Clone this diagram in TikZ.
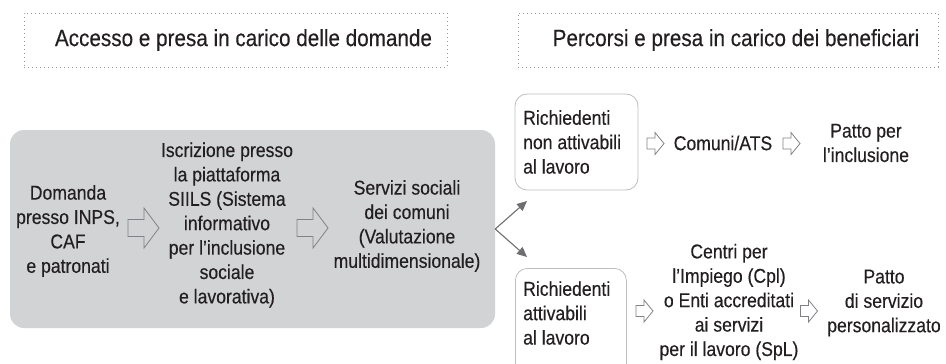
\documentclass[tikz,border=0pt]{standalone}
\usepackage{fontspec}
\setmainfont{Liberation Sans}[FakeStretch=0.88, FakeBold=0.3]
\usepackage{xcolor}
\usetikzlibrary{arrows.meta,positioning}

\definecolor{panelgray}{HTML}{D1D3D4}
\definecolor{framegray}{HTML}{BCBEC0}
\definecolor{dotgray}{HTML}{939598}
\definecolor{arrowgray}{HTML}{808285}
\definecolor{forkgray}{HTML}{6D6E71}
\definecolor{inkgray}{HTML}{231F20}

\tikzset{
  bodytext/.style={align=center, text=inkgray, inner sep=0pt,
    font=\fontsize{20}{24.4}\selectfont},
  headbox/.style={draw=dotgray, line width=0.8pt, dash pattern=on 1.2pt off 2.8pt,
    minimum height=54pt, inner sep=0pt},
  headtext/.style={text=inkgray, inner sep=0pt, font=\fontsize{23.5}{26}\selectfont},
  userbox/.style={draw=framegray, line width=0.8pt, rounded corners=12pt, fill=white},
  fork/.style={draw=forkgray, line width=1.1pt, -{Triangle[length=10pt,width=9pt]}},
  % hollow block arrows
  bigarrow/.pic={
    \draw[arrowgray, line width=0.8pt, line join=miter] (-15.5,-8.5) -- (0.5,-8.5) -- (0.5,-20)
      -- (15.5,0) -- (0.5,20) -- (0.5,8.5) -- (-15.5,8.5) -- cycle;
  },
  smallarrow/.pic={
    \draw[arrowgray, line width=0.8pt, line join=miter] (-8.5,-5.5) -- (-0.5,-5.5) -- (-0.5,-11)
      -- (8.5,0) -- (-0.5,11) -- (-0.5,5.5) -- (-8.5,5.5) -- cycle;
  }
}

\begin{document}
\begin{tikzpicture}[x=1pt, y=-1pt]
  \clip (0,0) rectangle (946,364);

  % Phase headers
  \node[headbox, minimum width=423pt] (hbox1) at (235.5,40) {};
  \node[headtext] (htext1) at ([xshift=8pt]hbox1.center) {Accesso e presa in carico delle domande};
  \node[headbox, minimum width=420pt] (hbox2) at (728,40) {};
  \node[headtext] (htext2) at ([xshift=8pt]hbox2.center) {Percorsi e presa in carico dei beneficiari};

  % Access panel
  \node[fill=panelgray, rounded corners=14pt, minimum width=485pt, minimum height=198pt, inner sep=0pt] (access) at (252.5,229) {};
  \node[bodytext] (domanda) at (68,231) {Domanda\\presso INPS,\\CAF\\e patronati};
  \pic (arr1) at (143.5,228) {bigarrow};
  \node[bodytext] (siils) at (227,225) {Iscrizione presso\\la piattaforma\\SIILS (Sistema\\informativo\\per l’inclusione\\sociale\\e lavorativa)};
  \pic (arr2) at (312.5,228) {bigarrow};
  \node[bodytext] (servizi) at (407,226) {Servizi sociali\\dei comuni\\(Valutazione\\multidimensionale)};

  % Fork to the two paths
  \coordinate (upTip) at (527,201);
  \coordinate (downTip) at (527,257);
  \draw[fork] (access.east) -- (upTip);
  \draw[fork] (access.east) -- (downTip);

  % Not activable path
  \node[userbox, minimum width=123pt, minimum height=96pt, inner sep=0pt] (nonatt) at (576.5,142) {};
  \node[bodytext, align=left, anchor=west] (nonatttext) at (523,142) {Richiedenti\\non attivabili\\al lavoro};
  \pic (arr3) at (655.5,143.5) {smallarrow};
  \node[bodytext] (comuni) at (723,143) {Comuni/ATS};
  \pic (arr4) at (791.5,143.5) {smallarrow};
  \node[bodytext] (pattoinc) at (866,143) {Patto per\\l’inclusione};

  % Activable path
  \node[userbox, minimum width=111pt, minimum height=130pt, inner sep=0pt, anchor=north west] (att) at (515,268) {};
  \node[bodytext, align=left, anchor=west] (atttext) at (523,313) {Richiedenti\\attivabili\\al lavoro};
  \pic (arr5) at (644.5,311) {smallarrow};
  \node[bodytext] (centri) at (729,302) {Centri per\\l’Impiego (Cpl)\\o Enti accreditati\\ai servizi\\per il lavoro (SpL)};
  \pic (arr6) at (809,311) {smallarrow};
  \node[bodytext] (pattoserv) at (884,303) {Patto\\di servizio\\personalizzato};
\end{tikzpicture}
\end{document}
